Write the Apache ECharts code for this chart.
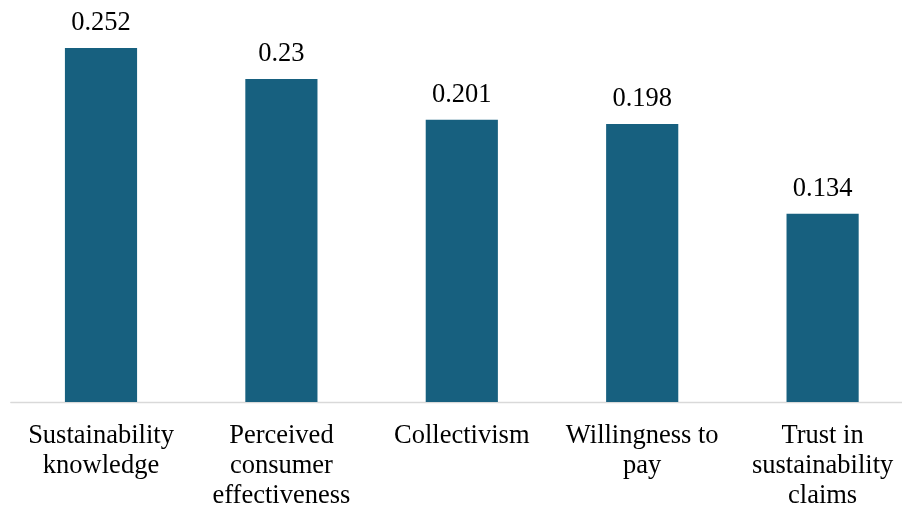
<!DOCTYPE html>
<html>
<head>
<meta charset="utf-8">
<script src="https://cdn.jsdelivr.net/npm/echarts@6/dist/echarts.min.js"></script>
<style>
  html, body { margin: 0; padding: 0; background: #fff; }
  #chart { width: 902px; height: 511px; }
</style>
</head>
<body>
<div id="chart"></div>
<script>
// Predictor categories and their coefficients
const categories = [
  'Sustainability\nknowledge',
  'Perceived\nconsumer\neffectiveness',
  'Collectivism',
  'Willingness to\npay',
  'Trust in\nsustainability\nclaims'
];
const values = [0.252, 0.23, 0.201, 0.198, 0.134];

const serif = '"Liberation Serif", "Times New Roman", serif';

const chart = echarts.init(document.getElementById('chart'));
chart.setOption({
  animation: false,
  textStyle: { fontFamily: serif },
  grid: {
    left: 10.8,
    top: 8.7,
    width: 902,
    bottom: 109,
    containLabel: false,
    outerBoundsMode: 'none'
  },
  xAxis: {
    type: 'category',
    data: categories,
    axisLine: { lineStyle: { color: '#d9d9d9', width: 1.3 } },
    axisTick: { show: false },
    axisLabel: {
      interval: 0,
      margin: 19.5,
      fontSize: 26.5,
      lineHeight: 30,
      color: '#000',
      fontFamily: serif
    }
  },
  yAxis: {
    type: 'value',
    min: 0,
    max: 0.28,
    show: false,
    splitLine: { show: false }
  },
  series: [{
    type: 'bar',
    data: values,
    barWidth: '40%',
    itemStyle: { color: '#17607f' },
    label: {
      show: true,
      position: 'top',
      distance: 11,
      fontSize: 26.5,
      color: '#000',
      fontFamily: serif,
      formatter: p => String(p.value)
    }
  }]
});
</script>
</body>
</html>
